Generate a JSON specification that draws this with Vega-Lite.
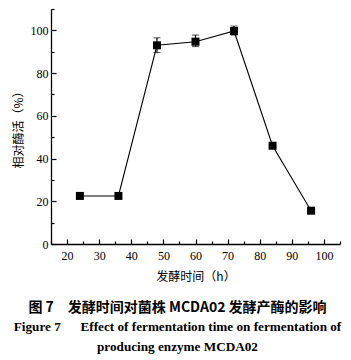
{
  "$schema": "https://vega.github.io/schema/vega-lite/v6.json",
  "width": 289,
  "height": 235,
  "autosize": "none",
  "padding": {"left": 51, "top": 9, "right": 11, "bottom": 116},
  "background": "white",
  "config": {
    "view": {"stroke": null},
    "axis": {"grid": false, "domainColor": "black", "domainWidth": 1.3, "tickColor": "black", "tickWidth": 1.2, "labelColor": "black", "titleColor": "black", "labelFont": "Liberation Serif", "labelFontSize": 12}
  },
  "title": {
    "text": "图 7　发酵时间对菌株 MCDA02 发酵产酶的影响",
    "subtitle": ["Figure 7\u2003\u2002Effect of fermentation time on fermentation of", "producing enzyme MCDA02"],
    "orient": "bottom",
    "anchor": "middle",
    "frame": "group",
    "dx": -18,
    "offset": 19,
    "font": "Noto Sans CJK SC",
    "fontSize": 14,
    "fontWeight": "bold",
    "color": "black",
    "subtitleFont": "Liberation Serif",
    "subtitleFontSize": 13.2,
    "subtitleFontWeight": "bold",
    "subtitleColor": "black",
    "subtitleLineHeight": 20,
    "subtitlePadding": 6
  },
  "data": {
    "values": [
      {"time": 24, "activity": 22.5, "lo": 22.5, "hi": 22.5},
      {"time": 36, "activity": 22.5, "lo": 22.5, "hi": 22.5},
      {"time": 48, "activity": 93.0, "lo": 89.6, "hi": 96.5},
      {"time": 60, "activity": 94.7, "lo": 92.4, "hi": 97.8},
      {"time": 72, "activity": 99.7, "lo": 97.8, "hi": 102.0},
      {"time": 84, "activity": 46.0, "lo": 46.0, "hi": 46.0},
      {"time": 96, "activity": 15.6, "lo": 15.6, "hi": 15.6}
    ]
  },
  "encoding": {
    "x": {
      "field": "time", "type": "quantitative",
      "scale": {"domain": [15, 105], "nice": false, "zero": false},
      "axis": {
        "title": "发酵时间（h）",
        "titleFont": "Noto Sans CJK SC", "titleFontSize": 12, "titleFontWeight": "normal", "titlePadding": 8,
        "values": [15, 20, 25, 30, 35, 40, 45, 50, 55, 60, 65, 70, 75, 80, 85, 90, 95, 100, 105],
        "labelExpr": "datum.value % 10 === 0 ? datum.label : ''",
        "tickSize": {"condition": {"test": "datum.value % 10 === 0", "value": -5}, "value": -3},
        "labelPadding": 11,
        "labelFlush": false,
        "labelOverlap": false
      }
    },
    "y": {
      "field": "activity", "type": "quantitative",
      "scale": {"domain": [0, 110], "nice": false},
      "axis": {
        "title": "相对酶活（%）",
        "titleFont": "Noto Sans CJK SC", "titleFontSize": 12, "titleFontWeight": "normal", "titlePadding": 5,
        "values": [0, 10, 20, 30, 40, 50, 60, 70, 80, 90, 100, 110],
        "labelExpr": "datum.value % 20 === 0 && datum.value <= 100 ? datum.label : ''",
        "tickSize": {"condition": {"test": "datum.value % 20 === 0", "value": -5}, "value": -3},
        "labelPadding": 8,
        "labelFlush": false,
        "labelOverlap": false
      }
    }
  },
  "layer": [
    {"mark": {"type": "line", "color": "black", "strokeWidth": 1.1}},
    {
      "mark": {"type": "errorbar", "ticks": {"color": "black", "size": 7}, "rule": {"color": "black", "strokeWidth": 1.2}},
      "encoding": {
        "y": {"field": "lo", "type": "quantitative"},
        "y2": {"field": "hi"}
      }
    },
    {"mark": {"type": "point", "shape": "square", "filled": true, "color": "black", "size": 64, "opacity": 1}}
  ]
}
